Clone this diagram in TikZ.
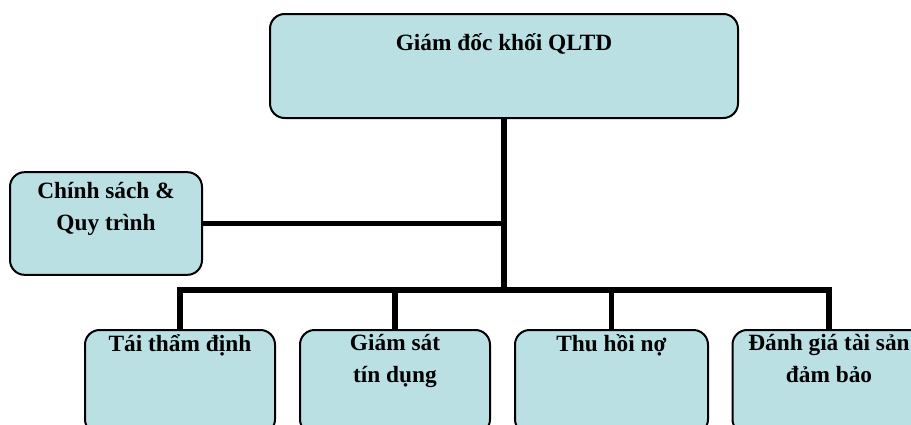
\documentclass[tikz,border=0pt]{standalone}
\usepackage{fontspec}
\setmainfont{Liberation Serif}
\usetikzlibrary{positioning}
\definecolor{boxfill}{RGB}{186,224,228}
\tikzset{
	x=0.75pt,
	y=-0.75pt,
	unit/.style={
		draw=black,
		line width=1.5pt,
		fill=boxfill,
		rounded corners=11pt,
		inner sep=0pt
	},
	unittext/.style={
		font=\bfseries\fontsize{17.5pt}{23.5pt}\selectfont,
		align=center,
		anchor=north,
		inner sep=0pt
	}
}

\begin{document}
\begin{tikzpicture}[line join=miter]
  \tikzset{
    link/.style={line width=3.8pt, line cap=butt}
  }
  \clip (0,0) rectangle (911,425);

  % boxes
  \node[unit, minimum width=351pt, minimum height=78pt] (gd) at (504,66) {};
  \node[unit, minimum width=144pt, minimum height=77pt] (cs) at (106,223.5) {};
  \node[unit, minimum width=142.5pt, minimum height=78pt] (ttd) at (180,382) {};
  \node[unit, minimum width=142.5pt, minimum height=78pt] (gstd) at (395,382) {};
  \node[unit, minimum width=144.75pt, minimum height=78pt] (thn) at (611.5,382) {};
  \node[unit, minimum width=144.75pt, minimum height=78pt] (dgts) at (829,382) {};

  % texts
  \node[unittext, yshift=-15pt] (gdtext) at (gd.north) {Giám đốc khối QLTD};
  \node[unittext, yshift=-8.5pt] (cstext) at (cs.north) {Chính sách \&\\ Quy trình};
  \node[unittext, yshift=-4pt] (ttdtext) at (ttd.north) {Tái thẩm định};
  \node[unittext, yshift=-4pt] (gstdtext) at (gstd.north) {Giám sát\\ tín dụng};
  \node[unittext, yshift=-4pt] (thntext) at (thn.north) {Thu hồi nợ};
  \node[unittext, yshift=-4pt] (dgtstext) at (dgts.north) {Đánh giá tài sản\\ đảm bảo};

  % connectors
  \coordinate (bus) at (504,290);
  \draw[link] (gd.south) -- (bus);
  \draw[link] (cs.east) -- (cs.east -| gd.south);
  \draw[link] (ttd.north) |- (bus) -| (dgts.north);
  \draw[link] (gstd.north) -- (gstd.north |- bus);
  \draw[link] (thn.north) -- (thn.north |- bus);
\end{tikzpicture}
\end{document}
